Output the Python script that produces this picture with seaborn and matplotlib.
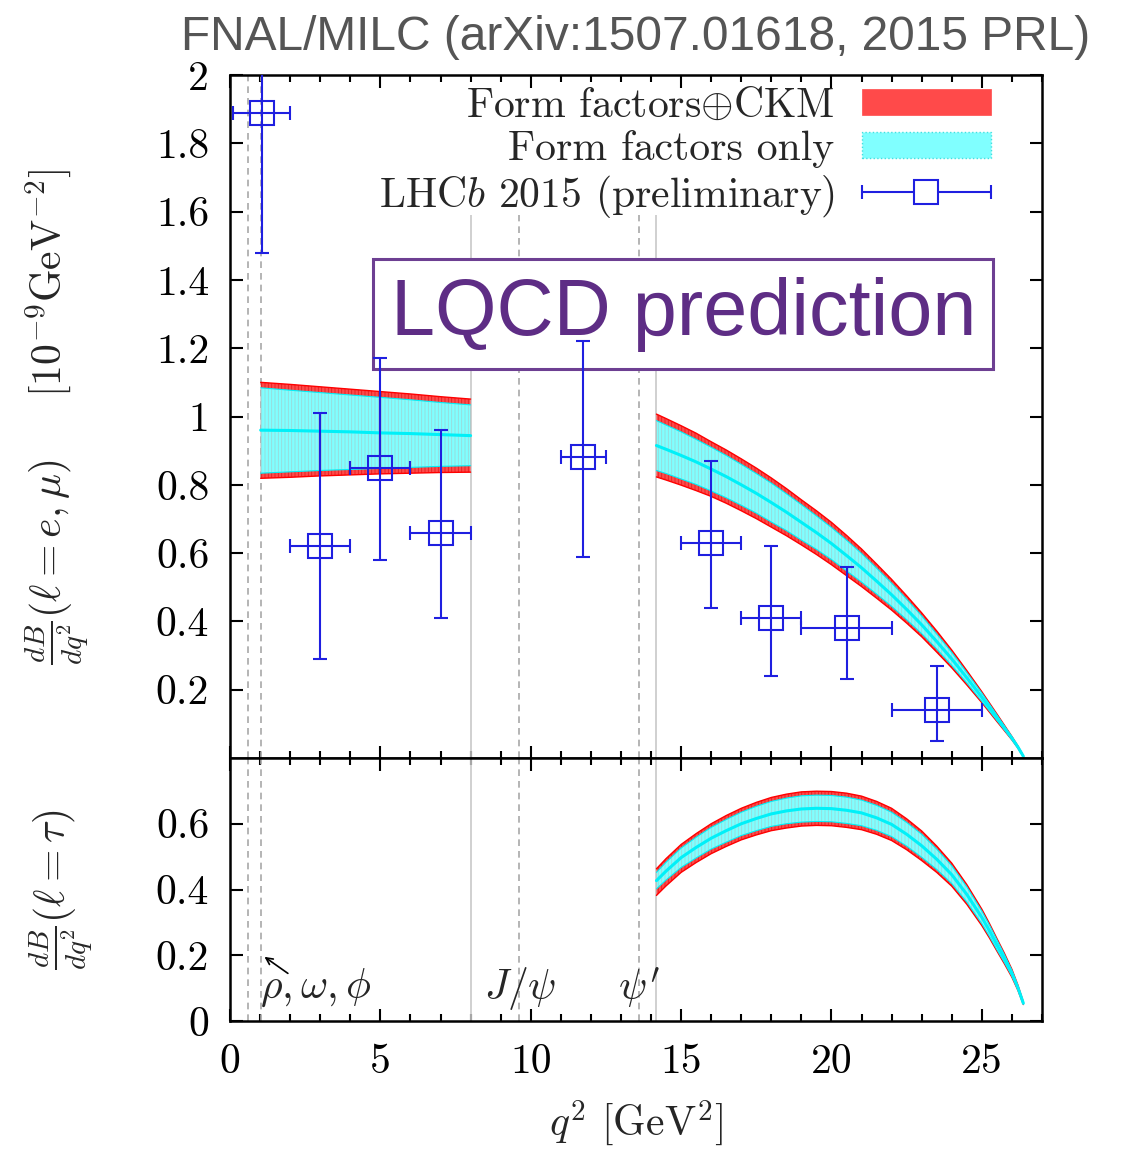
import numpy as np
import pandas as pd
import matplotlib
matplotlib.use("Agg")
import matplotlib.pyplot as plt
import seaborn as sns
from matplotlib.patches import Patch
from matplotlib.lines import Line2D
from matplotlib.legend_handler import HandlerBase
from matplotlib.ticker import MultipleLocator, FixedLocator, FuncFormatter

# ---------------- data ----------------
# light-lepton prediction, low q^2 window (central value and band half-widths)
q2_low = [1.02, 2, 3, 4, 5, 6, 7, 8]
low_mid = [0.960, 0.959, 0.957, 0.955, 0.952, 0.950, 0.947, 0.944]
low_red_up = [0.140, 0.135, 0.130, 0.125, 0.121, 0.116, 0.111, 0.107]
low_red_dn = [0.141, 0.137, 0.131, 0.126, 0.120, 0.116, 0.111, 0.107]
low_cy_up = [0.124, 0.118, 0.113, 0.108, 0.104, 0.099, 0.094, 0.090]
low_cy_dn = [0.126, 0.121, 0.115, 0.110, 0.104, 0.099, 0.093, 0.088]

# light-lepton prediction, high q^2 window
q2_high = [14.18, 14.5, 15, 15.5, 16, 16.5, 17, 17.5, 18, 18.5, 19, 19.5, 20, 20.5,
           21, 21.5, 22, 22.5, 23, 23.5, 24, 24.5, 25, 25.5, 25.75, 26, 26.2, 26.38]
high_mid = [0.915, 0.904, 0.886, 0.867, 0.846, 0.824, 0.800, 0.775, 0.748, 0.720,
            0.690, 0.660, 0.628, 0.593, 0.557, 0.518, 0.478, 0.435, 0.390, 0.341,
            0.290, 0.235, 0.178, 0.118, 0.088, 0.058, 0.032, 0.005]
high_red_hw = [0.092, 0.090, 0.087, 0.084, 0.080, 0.078, 0.076, 0.074, 0.072, 0.069,
               0.066, 0.064, 0.062, 0.059, 0.055, 0.050, 0.045, 0.040, 0.035, 0.031,
               0.026, 0.021, 0.016, 0.011, 0.008, 0.005, 0.003, 0.001]
high_cy_hw = [0.073, 0.071, 0.069, 0.066, 0.064, 0.062, 0.060, 0.058, 0.057, 0.054,
              0.052, 0.049, 0.047, 0.045, 0.042, 0.038, 0.034, 0.030, 0.026, 0.022,
              0.019, 0.015, 0.012, 0.008, 0.006, 0.004, 0.002, 0.001]

# tau prediction
q2_tau = [14.18, 14.5, 15, 15.5, 16, 16.5, 17, 17.5, 18, 18.5, 19, 19.5, 20, 20.5,
          21, 21.5, 22, 22.5, 23, 23.5, 24, 24.5, 25, 25.25, 25.5, 25.75, 26, 26.2, 26.38]
tau_mid = [0.427, 0.456, 0.497, 0.528, 0.556, 0.579, 0.600, 0.616, 0.630, 0.639,
           0.645, 0.647, 0.646, 0.641, 0.633, 0.618, 0.598, 0.568, 0.533, 0.492,
           0.445, 0.385, 0.315, 0.275, 0.232, 0.190, 0.145, 0.101, 0.054]
tau_red_up = [0.036, 0.038, 0.040, 0.042, 0.044, 0.046, 0.047, 0.049, 0.050, 0.051,
              0.052, 0.052, 0.052, 0.052, 0.051, 0.050, 0.049, 0.047, 0.045, 0.040,
              0.035, 0.030, 0.025, 0.022, 0.019, 0.016, 0.012, 0.008, 0.004]
tau_red_dn = [0.045, 0.045, 0.045, 0.046, 0.047, 0.048, 0.049, 0.050, 0.051, 0.052,
              0.052, 0.052, 0.052, 0.052, 0.051, 0.050, 0.049, 0.047, 0.045, 0.040,
              0.035, 0.030, 0.025, 0.022, 0.019, 0.016, 0.012, 0.008, 0.004]
tau_cy_up = [0.025, 0.027, 0.029, 0.031, 0.033, 0.034, 0.035, 0.037, 0.038, 0.039,
             0.040, 0.040, 0.040, 0.040, 0.039, 0.038, 0.037, 0.036, 0.035, 0.031,
             0.027, 0.023, 0.019, 0.017, 0.015, 0.012, 0.009, 0.006, 0.003]
tau_cy_dn = [0.025, 0.027, 0.030, 0.032, 0.033, 0.035, 0.036, 0.037, 0.038, 0.039,
             0.040, 0.040, 0.040, 0.040, 0.039, 0.038, 0.037, 0.036, 0.035, 0.031,
             0.027, 0.023, 0.019, 0.017, 0.015, 0.012, 0.009, 0.006, 0.003]

# LHCb 2015 (preliminary)
lhcb_q2 = [1.05, 3, 5, 7, 11.75, 16, 18, 20.5, 23.5]
lhcb_bin_lo = [0.1, 2, 4, 6, 11, 15, 17, 19, 22]
lhcb_bin_hi = [2, 4, 6, 8, 12.5, 17, 19, 22, 25]
lhcb_val = [1.89, 0.62, 0.85, 0.66, 0.88, 0.63, 0.41, 0.38, 0.14]
lhcb_val_lo = [1.48, 0.29, 0.58, 0.41, 0.59, 0.44, 0.24, 0.23, 0.05]
lhcb_val_hi = [2.30, 1.01, 1.17, 0.96, 1.22, 0.87, 0.62, 0.56, 0.27]

# resonance / veto lines
dashed_full = [0.61, 1.02]
dashed_part = [9.6, 13.6]
solid_part = [8.0, 14.18]

top_yticks = [0.2, 0.4, 0.6, 0.8, 1.0, 1.2, 1.4, 1.6, 1.8, 2.0]
bot_yticks = [0, 0.2, 0.4, 0.6]
x_ticks = [0, 5, 10, 15, 20, 25]

# ---------------- style ----------------
sns.set_theme(style="ticks")
plt.rcParams.update({
    "font.family": ["cmr10", "DejaVu Serif"],
    "mathtext.fontset": "cm",
    "axes.formatter.use_mathtext": True,
    "axes.unicode_minus": False,
    "hatch.linewidth": 0.6,
    "axes.linewidth": 1.5,
    "axes.edgecolor": "black",
})

RED = "#ff4a4a"
RED_H = "#e02020"
CYAN = "#80ffff"
CYAN_H = "#9ad8d8"
CYAN_L = "#00f0f8"
BLUE = "#1f1fe0"
PURPLE = "#5e2d85"
GRAY_D = "#a8a8a8"
GRAY_S = "#c8c8c8"

FS = 30

fig = plt.figure(figsize=(11.21, 11.51), dpi=100)
W, H = 1121, 1151
ax1 = fig.add_axes([230 / W, 1 - 758 / H, 812 / W, 683 / H])
ax2 = fig.add_axes([230 / W, 1 - 1021 / H, 812 / W, 263 / H], sharex=ax1)


def draw_band(ax, q, mid, r_up, r_dn, c_up, c_dn):
    mid = np.asarray(mid)
    r_hi, r_lo = mid + np.asarray(r_up), mid - np.asarray(r_dn)
    c_hi, c_lo = mid + np.asarray(c_up), mid - np.asarray(c_dn)
    ax.fill_between(q, r_lo, r_hi, facecolor=RED, edgecolor=RED_H, hatch="|||||",
                    linewidth=0, zorder=2)
    ax.plot(q, r_hi, color="#ff0000", lw=1.0, zorder=2.1)
    ax.plot(q, r_lo, color="#ff0000", lw=1.0, zorder=2.1)
    ax.fill_between(q, c_lo, c_hi, facecolor=CYAN, edgecolor=CYAN_H, hatch="|||||",
                    linewidth=0, zorder=2.2)
    ax.plot(q, c_hi, color=CYAN_L, lw=0.8, zorder=2.3)
    ax.plot(q, c_lo, color=CYAN_L, lw=0.8, zorder=2.3)
    df = pd.DataFrame({"q2": q, "val": mid})
    sns.lineplot(data=df, x="q2", y="val", ax=ax, color=CYAN_L, lw=2.2,
                 legend=False, zorder=2.4)


draw_band(ax1, q2_low, low_mid, low_red_up, low_red_dn, low_cy_up, low_cy_dn)
draw_band(ax1, q2_high, high_mid, high_red_hw, high_red_hw, high_cy_hw, high_cy_hw)
draw_band(ax2, q2_tau, tau_mid, tau_red_up, tau_red_dn, tau_cy_up, tau_cy_dn)

# vertical lines
for ax, top in ((ax1, 1.59), (ax2, 0.8)):
    for x in dashed_full:
        ax.axvline(x, color=GRAY_D, lw=1.2, ls=(0, (4, 3)), zorder=1)
    for x in dashed_part:
        ax.vlines(x, 0, top, color=GRAY_D, lw=1.2, ls=(0, (4, 3)), zorder=1)
    for x in solid_part:
        ax.vlines(x, 0, top, color=GRAY_S, lw=1.2, zorder=1)

# data points
q = np.array(lhcb_q2)
v = np.array(lhcb_val)
xerr = [q - np.array(lhcb_bin_lo), np.array(lhcb_bin_hi) - q]
yerr = [v - np.array(lhcb_val_lo), np.array(lhcb_val_hi) - v]
ax1.errorbar(q, v, xerr=xerr, yerr=yerr, fmt="s", mfc="none", mec=BLUE, ms=17,
             mew=1.5, ecolor=BLUE, elinewidth=1.5, capsize=5, capthick=1.5,
             color=BLUE, zorder=4)


class ErrorbarHandle(HandlerBase):
    def create_artists(self, legend, orig_handle, xdescent, ydescent, width,
                       height, fontsize, trans):
        y = height / 2 - ydescent
        x0, x1 = -xdescent, -xdescent + width
        line = Line2D([x0, x1], [y, y], color=BLUE, lw=1.5)
        caps = Line2D([x0, x1], [y, y], ls="none", marker="|", ms=10, mew=1.5,
                      color=BLUE)
        sq = Line2D([(x0 + x1) / 2], [y], ls="none", marker="s", ms=17,
                    mfc="white", mec=BLUE, mew=1.5)
        for a in (line, caps, sq):
            a.set_transform(trans)
        return [line, caps, sq]


eb_proxy = Line2D([], [], color=BLUE)

# axes
ax1.set_xlim(0, 27)
ax1.set_ylim(0, 2)
ax2.set_ylim(0, 0.8)
fmt = FuncFormatter(lambda val, pos: "%g" % val)
ax1.yaxis.set_major_locator(FixedLocator(top_yticks))
ax1.yaxis.set_major_formatter(fmt)
ax2.yaxis.set_major_locator(FixedLocator(bot_yticks))
ax2.yaxis.set_major_formatter(fmt)
ax2.xaxis.set_major_locator(FixedLocator(x_ticks))
ax2.xaxis.set_minor_locator(MultipleLocator(1))
ax2.xaxis.set_major_formatter(fmt)
plt.setp(ax1.get_xticklabels(), visible=False)

for ax in (ax1, ax2):
    ax.tick_params(which="both", direction="in", top=True, right=True,
                   width=1.5, labelsize=FS, colors="black")
    ax.tick_params(which="major", length=9)
    ax.tick_params(axis="y", which="major", pad=15)
    ax.tick_params(which="minor", length=5)
    for s in ax.spines.values():
        s.set_visible(True)
        s.set_linewidth(1.8)
        s.set_color("black")
ax2.tick_params(axis="x", which="major", pad=16)
ax1.tick_params(axis="y", which="minor", left=False, right=False)
ax2.tick_params(axis="y", which="minor", left=False, right=False)

ax1.set_ylabel(r"$\frac{dB}{dq^2}(\ell=e,\mu)\quad\ \ [10^{-9}\mathrm{GeV}^{-2}]$", fontsize=FS)
ax2.set_ylabel(r"$\frac{dB}{dq^2}(\ell=\tau)$", fontsize=FS)
ax1.yaxis.set_label_coords(-0.17, 0.5)
ax2.yaxis.set_label_coords(-0.165, 0.5)
ax2.set_xlabel(r"$q^2$ [GeV$^2$]", fontsize=FS, labelpad=13)
ax1.set_xlabel("")

# resonance labels
ax2.text(1.0, 0.10, r"$\rho,\omega,\phi$", fontsize=FS, ha="left", va="center", zorder=5)
ax2.annotate("", xy=(1.07, 0.20), xytext=(2.0, 0.14),
             arrowprops=dict(arrowstyle="->", color="black", lw=1.2))
ax2.text(9.65, 0.10, r"$J/\psi$", fontsize=FS, ha="center", va="center", zorder=5)
ax2.text(13.6, 0.10, r"$\psi'$", fontsize=FS, ha="center", va="center", zorder=5)

# LQCD box
ax1.text(15.07, 1.30, "LQCD prediction", fontsize=57, family="Liberation Sans",
         color=PURPLE, ha="center", va="center", zorder=3,
         bbox=dict(boxstyle="square,pad=0.22", fc="white", ec="#6d3f92", lw=2.2))

# legend
red_patch = Patch(facecolor=RED, edgecolor=RED, lw=0.5)
cyan_patch = Patch(facecolor=CYAN, edgecolor="#40e0e0", lw=1.0, ls=":")
leg = ax1.legend(handles=[red_patch, cyan_patch, eb_proxy],
                 labels=[r"Form factors$\oplus$CKM", "Form factors only",
                         r"LHC$b$ 2015 (preliminary)"],
                 handler_map={eb_proxy: ErrorbarHandle()},
                 loc="upper right", bbox_to_anchor=(0.937, 0.982),
                 frameon=False, markerfirst=False, handlelength=3.1,
                 handleheight=0.55, handletextpad=0.65, labelspacing=0.12,
                 fontsize=FS, borderpad=0, borderaxespad=0)
for col in leg._legend_handle_box.get_children():
    col.align = "right"
leg.set_zorder(7)

fig.text(636 / W, 1 - 50 / H, "FNAL/MILC (arXiv:1507.01618, 2015 PRL)",
         fontsize=34.5, family="Liberation Sans", color="#555555",
         ha="center", va="baseline")

fig.savefig("out.png", dpi=100)
